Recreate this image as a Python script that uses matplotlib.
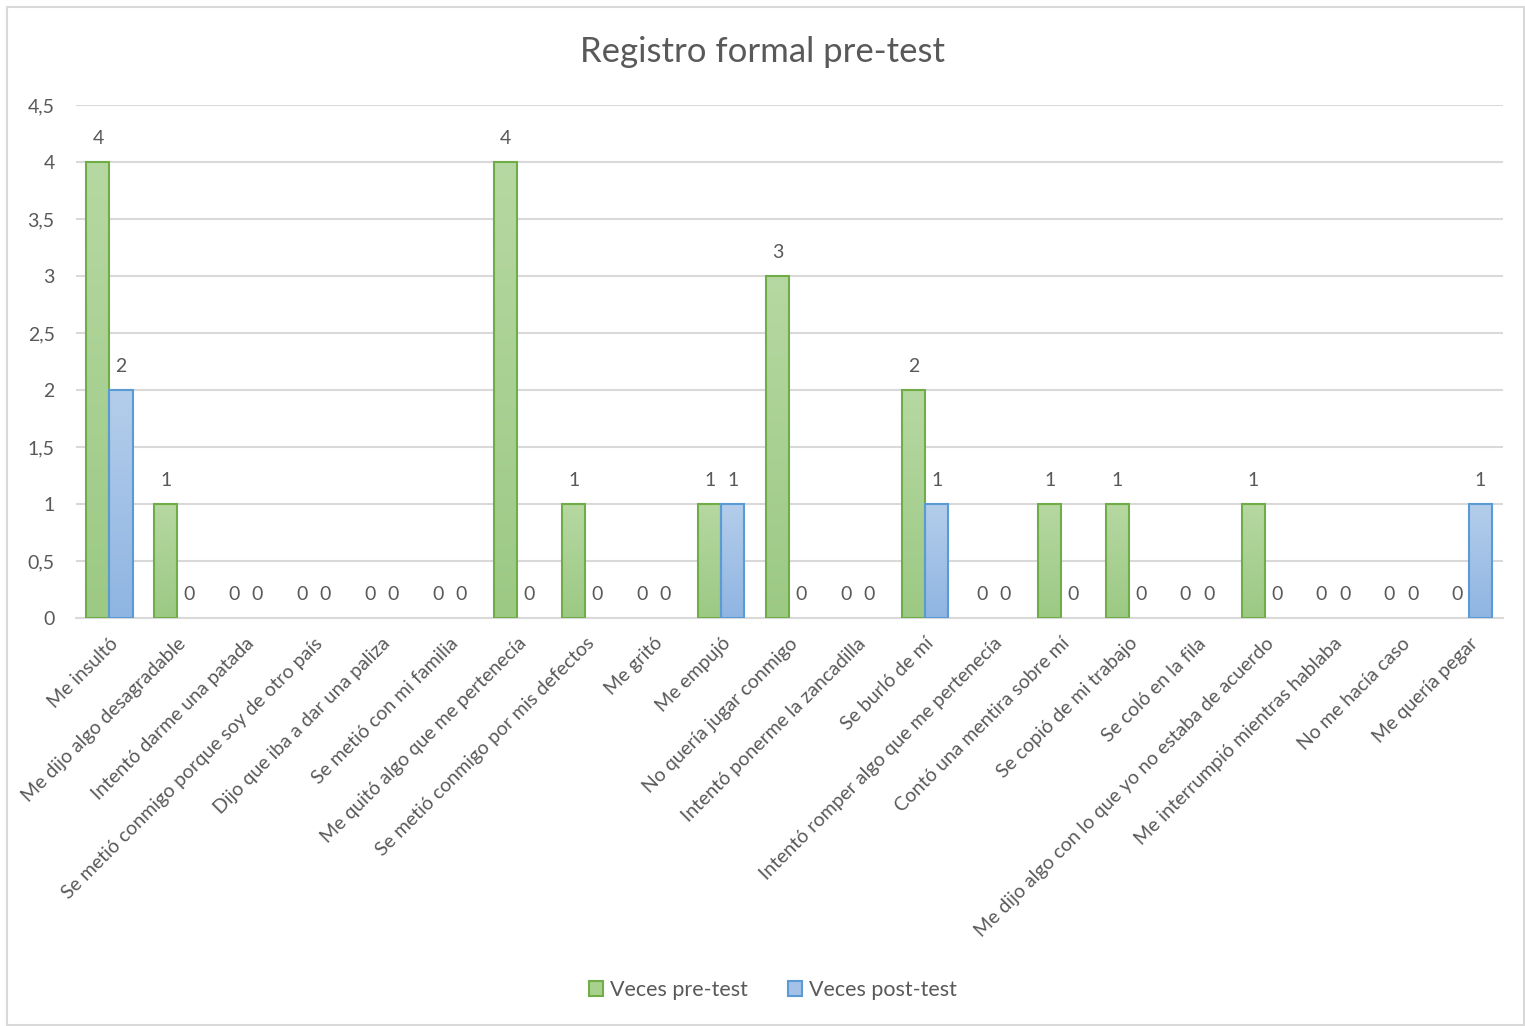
#!/usr/bin/env python3
"""Registro formal pre-test: grouped bars, pre vs post."""

import numpy as np
import matplotlib
matplotlib.use("Agg")
import matplotlib.pyplot as plt
from matplotlib.colors import LinearSegmentedColormap
from matplotlib.patches import Rectangle, Patch

categories = [
    "Me insultó",
    "Me dijo algo desagradable",
    "Intentó darme una patada",
    "Se metió conmigo porque soy de otro país",
    "Dijo que iba a dar una paliza",
    "Se metió con mi familia",
    "Me quitó algo que me pertenecía",
    "Se metió conmigo por mis defectos",
    "Me gritó",
    "Me empujó",
    "No quería jugar conmigo",
    "Intentó ponerme la zancadilla",
    "Se burló de mí",
    "Intentó romper algo que me pertenecía",
    "Contó una mentira sobre mí",
    "Se copió de mi trabajo",
    "Se coló en la fila",
    "Me dijo algo con lo que yo no estaba de acuerdo",
    "Me interrumpió mientras hablaba",
    "No me hacía caso",
    "Me quería pegar",
]
pre_test = [4, 1, 0, 0, 0, 0, 4, 1, 0, 1, 3, 0, 2, 0, 1, 1, 0, 1, 0, 0, 0]
post_test = [2, 0, 0, 0, 0, 0, 0, 0, 0, 1, 0, 0, 1, 0, 0, 0, 0, 0, 0, 0, 1]
y_ticks = [0, 0.5, 1, 1.5, 2, 2.5, 3, 3.5, 4, 4.5]

plt.rcParams["font.family"] = ["Lato", "DejaVu Sans"]
TXT = "#595959"
GRID = "#D9D9D9"
GREEN_FILL, GREEN_EDGE = "#A9D18E", "#70AD47"
BLUE_FILL, BLUE_EDGE = "#A4C2E8", "#5B9BD5"

fig = plt.figure(figsize=(15.25, 10.26), dpi=100)
ax = fig.add_axes([75.5 / 1525, 1 - 618 / 1026, (1503 - 75.5) / 1525, (618 - 105) / 1026])

x = np.arange(len(categories))
w = 0.34
bars_pre = ax.bar(x - w / 2, pre_test, w, color=GREEN_FILL, edgecolor=GREEN_EDGE,
                  linewidth=0, zorder=3)
bars_post = ax.bar(x + w / 2, post_test, w, color=BLUE_FILL, edgecolor=BLUE_EDGE,
                   linewidth=0, zorder=3)

# gradient fill like Excel
cm_g = LinearSegmentedColormap.from_list("g", ["#9CC984", "#B6D8A2"])
cm_b = LinearSegmentedColormap.from_list("b", ["#8FB5E2", "#B4CDEB"])
grad = np.linspace(0, 1, 256).reshape(-1, 1)
for bars, cm in ((bars_pre, cm_g), (bars_post, cm_b)):
    for b in bars:
        h = b.get_height()
        if h <= 0:
            continue
        bx = b.get_x()
        im = ax.imshow(grad, cmap=cm, origin="lower", aspect="auto",
                       extent=(bx, bx + b.get_width(), 0, h), zorder=3.1)
        im.set_clip_path(b)
        edge = Rectangle((bx, 0), b.get_width(), h, fill=False,
                         edgecolor=b.get_edgecolor(), linewidth=1.5, zorder=3.2)
        ax.add_patch(edge)

for bars in (bars_pre, bars_post):
    for b in bars:
        ax.annotate(f"{int(b.get_height())}", (b.get_x() + b.get_width() / 2, b.get_height()),
                    xytext=(0, 11), textcoords="offset points", ha="center", va="bottom",
                    fontsize=14, color=TXT)

ax.set_xlim(-0.5, len(categories) - 0.5)
ax.set_ylim(0, 4.5)
ax.set_yticks(y_ticks)
ax.set_yticklabels([f"{v:g}".replace(".", ",") for v in y_ticks])
ax.yaxis.grid(True, color=GRID, linewidth=1.5, zorder=0)
ax.set_axisbelow(True)
for s in ("top", "right", "left"):
    ax.spines[s].set_visible(False)
ax.spines["bottom"].set_color(GRID)
ax.spines["bottom"].set_linewidth(1.5)
ax.tick_params(axis="both", length=0, labelsize=14, labelcolor=TXT)
ax.tick_params(axis="y", pad=15)

ax.set_xticks(x)
ax.set_xticklabels(categories, rotation=45, ha="right", va="top", rotation_mode="anchor")
ax.tick_params(axis="x", pad=12)

fig.text(0.5, 1 - 52 / 1026, "Registro formal pre-test", ha="center", va="center",
         fontsize=25, color=TXT)

handles = [
    Patch(facecolor=GREEN_FILL, edgecolor=GREEN_EDGE, linewidth=1.5, label="Veces pre-test"),
    Patch(facecolor=BLUE_FILL, edgecolor=BLUE_EDGE, linewidth=1.5, label="Veces post-test"),
]
ax.legend(handles=handles, loc="center", bbox_to_anchor=(773 / 1525, 1 - 990 / 1026),
          bbox_transform=fig.transFigure, ncol=2, frameon=False, fontsize=15.5,
          labelcolor=TXT, handlelength=0.65, handleheight=0.65, handletextpad=0.3,
          columnspacing=1.9)

# chart area border
fig.add_artist(Rectangle((7 / 1525, 1 / 1026), 1 - 8 / 1525, 1 - 8 / 1026,
                         transform=fig.transFigure, fill=False, edgecolor=GRID, linewidth=1.5))

fig.savefig("out.png", dpi=100)
